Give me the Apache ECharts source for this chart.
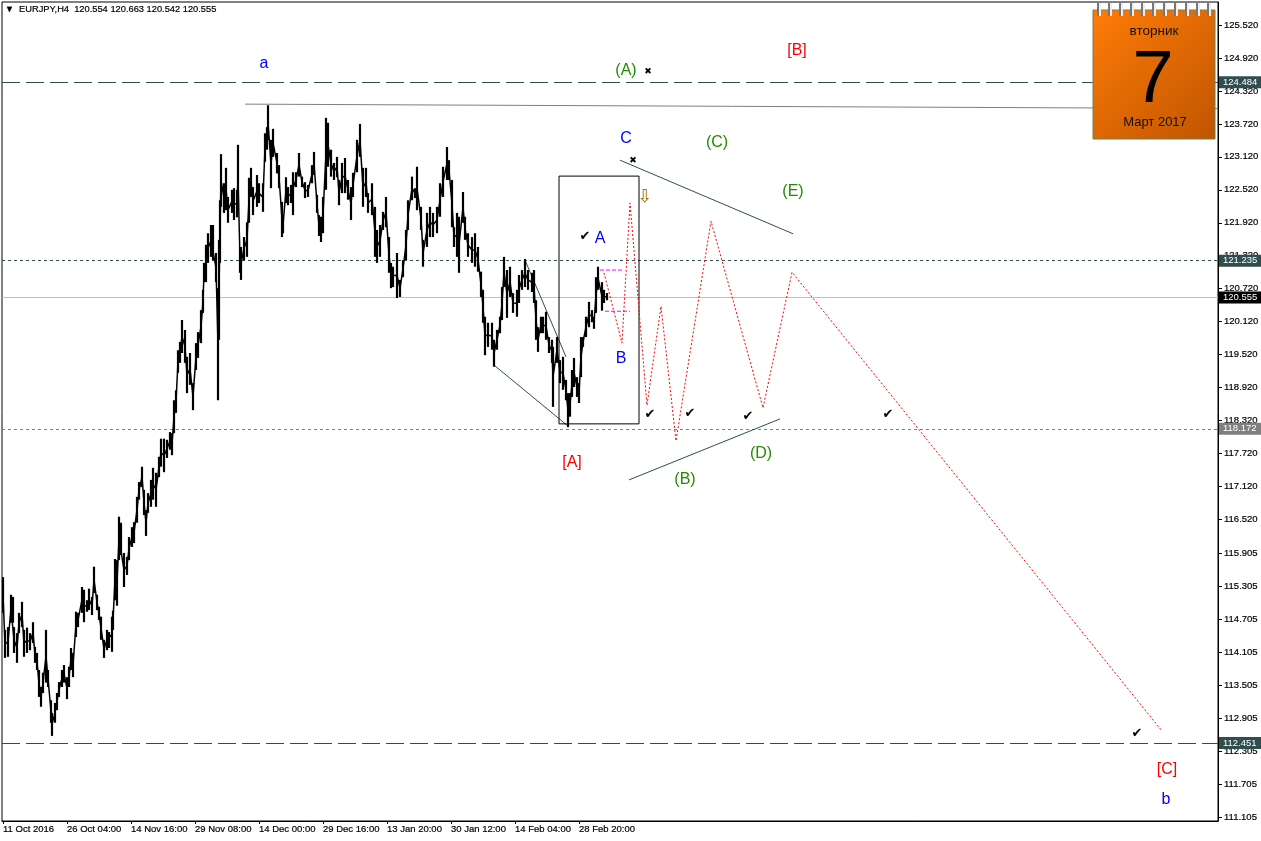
<!DOCTYPE html>
<html><head><meta charset="utf-8"><style>html,body{margin:0;padding:0;background:#fff}#c{width:1261px;height:841px}</style>
<script src="https://cdn.jsdelivr.net/npm/echarts@6/dist/echarts.min.js"></script></head><body><div id="c"></div>
<script>
const barIndex=[3,5,8,11,13,14,17,19,22,24,27,30,33,35,37,39,41,43,46,48,51,52,55,57,59,62,64,67,69,71,73,76,78,82,84,87,89,92,94,97,99,101,104,107,109,112,113,115,117,119,121,124,127,129,132,134,137,139,142,144,146,148,151,153,156,159,161,164,167,170,172,174,176,178,180,182,185,187,190,193,196,198,201,203,204,206,208,211,213,216,218,219,220,221,224,226,228,232,234,237,238,240,241,244,247,249,251,253,257,259,263,265,267,268,271,273,277,279,282,283,286,288,291,293,296,299,302,305,308,312,314,317,319,321,323,326,328,331,334,337,339,342,345,348,351,353,357,360,363,366,368,372,375,377,380,383,386,389,391,393,397,400,403,406,408,412,415,417,421,423,427,430,433,437,440,443,447,449,452,454,457,459,463,465,468,472,475,478,481,483,485,488,492,494,497,500,502,504,507,510,513,517,519,522,525,528,532,534,536,538,541,543,546,549,552,553,557,560,563,566,568,570,572,574,577,579,581,583,586,589,592,594,596,598,602,604,607];
const highs=[115.47,114.51,114.56,115.15,115.11,114.56,114.45,114.82,115.02,114.51,114.55,114.45,114.65,114.20,114.09,113.78,113.47,113.73,114.51,113.78,113.23,113.00,113.18,113.36,113.56,113.78,113.87,113.65,113.84,114.18,114.09,114.84,114.82,115.29,115.24,115.05,115.26,115.11,115.66,115.15,114.93,114.75,114.33,114.51,114.47,114.75,114.86,115.80,115.78,116.57,116.46,115.91,115.84,116.20,116.38,116.47,116.93,117.20,117.48,117.06,116.69,117.00,117.24,117.46,117.37,117.66,117.99,117.99,117.97,118.11,118.09,118.69,118.87,119.60,119.75,120.15,119.97,119.48,119.55,119.00,119.73,119.93,120.33,120.70,121.19,121.52,121.73,121.88,121.88,121.37,120.73,121.61,122.33,123.17,122.64,122.92,122.39,122.52,122.55,122.52,123.34,121.48,121.48,121.66,121.93,122.74,122.92,122.57,122.79,122.64,122.64,123.55,123.66,124.06,123.43,123.63,123.19,122.97,122.30,122.03,122.75,122.57,122.61,122.84,122.84,123.19,122.76,122.66,122.61,122.97,123.21,122.43,122.06,122.03,122.39,123.83,123.74,123.25,123.01,123.12,122.70,123.01,123.10,122.70,122.57,122.83,123.43,123.72,122.92,122.92,122.46,122.64,122.21,121.79,121.88,122.12,122.39,121.66,121.19,121.12,121.37,120.88,121.24,121.79,122.33,122.76,122.55,122.94,122.21,121.61,122.10,122.21,122.10,122.21,122.64,122.94,123.30,123.06,122.70,121.84,122.10,122.03,122.48,122.03,121.73,121.66,121.73,121.48,121.03,120.70,120.21,120.10,120.10,119.79,119.97,120.21,120.75,121.30,121.06,121.12,120.64,120.70,120.97,121.06,121.26,121.06,121.01,121.06,120.51,120.02,120.21,120.21,120.30,119.84,119.79,119.66,119.84,119.42,119.48,119.06,118.82,118.82,119.24,119.46,119.11,119.00,119.84,119.84,120.21,120.48,120.33,120.21,120.93,121.12,120.84,120.70,120.64];
const lows=[114.82,114.00,114.02,114.64,114.64,114.09,113.91,114.45,114.56,114.02,114.09,114.14,114.27,113.91,113.78,113.29,113.11,113.36,113.55,113.47,112.82,112.58,112.82,113.05,113.29,113.47,113.55,113.25,113.47,113.78,113.65,114.38,114.56,114.82,114.65,114.84,114.87,114.78,115.18,114.87,114.69,114.33,114.00,114.14,114.18,114.11,114.51,115.05,114.95,115.78,115.87,115.29,115.51,115.78,116.02,116.09,116.46,116.88,117.11,116.60,116.22,116.64,116.75,116.88,116.75,117.29,117.48,117.38,117.64,117.79,117.69,118.09,118.46,119.19,119.37,119.55,119.37,118.82,118.97,118.51,119.24,119.46,119.73,120.28,120.84,120.84,121.19,121.30,121.24,120.84,118.69,119.79,121.19,122.21,122.10,122.15,121.92,122.10,121.97,122.02,122.15,121.01,120.88,121.24,121.30,121.92,122.39,122.06,122.21,122.28,122.12,123.03,123.25,123.43,122.55,123.12,122.82,122.55,121.66,121.73,122.28,122.24,122.28,122.06,122.57,122.76,122.57,122.37,122.39,122.64,122.79,122.10,121.68,121.57,121.73,122.52,122.94,122.76,122.70,122.75,122.24,122.46,122.46,122.34,121.97,122.39,122.84,123.12,122.21,122.39,122.10,122.06,121.30,121.19,121.30,121.79,121.84,121.01,120.73,120.75,120.55,120.57,120.93,121.24,121.79,122.33,122.37,122.15,121.79,121.12,121.48,121.66,121.66,121.73,122.03,122.39,122.70,122.70,121.84,121.48,121.30,121.01,121.92,121.61,121.30,121.19,121.12,121.03,120.57,120.10,119.51,119.66,119.61,119.30,119.61,119.91,120.15,120.75,120.19,120.57,120.28,120.21,120.46,120.70,120.75,120.70,120.66,120.46,119.79,119.57,119.91,119.91,119.79,119.55,119.37,118.57,119.37,119.00,118.88,118.69,118.20,118.39,118.75,118.93,118.75,118.64,119.11,119.66,119.84,120.02,120.11,119.99,120.28,120.70,120.32,120.46,120.51];

const xTickBars=[3,67,131,195,259,323,387,451,515,579];
const xTickLabels=['11 Oct 2016','26 Oct 04:00','14 Nov 16:00','29 Nov 08:00','14 Dec 00:00','29 Dec 16:00','13 Jan 20:00','30 Jan 12:00','14 Feb 04:00','28 Feb 20:00'];
const yTickPrices=[125.52,124.92,124.32,123.72,123.12,122.52,121.92,121.32,120.72,120.12,119.52,118.92,118.32,117.72,117.12,116.52,115.905,115.305,114.705,114.105,113.505,112.905,112.305,111.705,111.105];

const longDashLevels=[124.484,112.451];
const shortDashDark=121.235, shortDashGrey=118.172, bidLevel=120.555;

const waveBars=[604,622,630,647,661,676,711,763,792,1162];
const wavePrices=[121.01,119.73,122.28,118.60,120.40,117.95,121.95,118.55,121.02,112.67];
const trendLines=[
 {bars:[245,1218],prices:[124.08,124.00],color:'#808080'},
 {bars:[620,793],prices:[123.06,121.72],color:'#2f4f4f'},
 {bars:[629,780],prices:[117.24,118.35],color:'#2f4f4f'},
 {bars:[494,568],prices:[119.33,118.22],color:'#2f4f4f'},
 {bars:[525,566],prices:[121.24,119.48],color:'#2f4f4f'}
];
const boxBars=[559,639], boxPrices=[118.26,122.77];
const magenta=[{bars:[600,622],price:121.06},{bars:[605,630],price:120.31}];

const blueNames=['a','C','A','B','b'];
const blueBars=[264,626,600,621,1166];
const bluePrices=[124.81,123.45,121.63,119.45,111.42];
const redNames=['[B]','[A]','[C]'];
const redBars=[797,572,1167];
const redPrices=[125.06,117.55,111.96];
const greenNames=['(A)','(C)','(E)','(B)','(D)'];
const greenBars=[626,717,793,685,761];
const greenPrices=[124.69,123.38,122.49,117.25,117.72];
const checkBars=[585,650,690,748,888,1137];
const checkPrices=[121.66,118.42,118.44,118.40,118.42,112.63];
const crossBars=[648,633];
const crossPrices=[124.68,123.06];
const arrowBars=[645];
const arrowPrices=[122.39];

const AX='"Liberation Sans",sans-serif';
const chart=echarts.init(document.getElementById('c'),null,{renderer:'canvas',width:1261,height:841});
const textSeries=(bars,prices,names,color,size,font)=>({type:'scatter',z:20,silent:true,symbolSize:1,itemStyle:{color:'rgba(0,0,0,0)',opacity:1},
 data:bars.map((b,i)=>[b,prices[i],names[i]]),
 label:{show:true,position:'inside',opacity:1,formatter:p=>p.data[2],color,fontSize:size,fontFamily:font||'"Liberation Sans",sans-serif'}});
const lineSeries=(data,color,width,type,z)=>({type:'line',z:z||5,silent:true,symbol:'none',animation:false,data,lineStyle:{color,width,type:type||'solid'}});
const hLabel=(v,bg,fg)=>({show:true,position:'end',distance:1,formatter:()=>v.toFixed(3),color:fg,backgroundColor:bg,fontSize:9.5,fontFamily:AX,padding:[1,3,0,4],width:35,align:'left',height:11,lineHeight:11});
const mk=(value,color,type,bg,fg='#fff')=>({yAxis:value,lineStyle:{color,type,width:1},label:hLabel(value,bg,fg)});
const rings=[];
for(let i=0;i<11;i++){const x=1097+i*11;
 rings.push({type:'rect',z:31,shape:{x:x,y:3,width:2,height:13},style:{fill:'#777'}});
 rings.push({type:'rect',z:32,shape:{x:x+2,y:3,width:2,height:13},style:{fill:'#eee'}});}
chart.setOption({
 animation:false,backgroundColor:'#fff',
 title:{text:'{t|▼}  EURJPY,H4  120.554 120.663 120.542 120.555',left:5,top:5,padding:0,
  textStyle:{fontSize:9.3,fontWeight:'normal',color:'#000',fontFamily:AX,textBorderColor:'#000',textBorderWidth:0.2,rich:{t:{fontSize:9,color:'#000'}}}},
 grid:{left:2,right:43,top:2,bottom:20,outerBoundsMode:'none',containLabel:false,show:true,borderColor:'#000',borderWidth:1,backgroundColor:'#fff'},
 xAxis:{type:'value',min:2,max:1218,splitLine:{show:false},axisLine:{show:true,lineStyle:{color:'#000'}},
  axisTick:{show:true,length:3,lineStyle:{color:'#000'},customValues:xTickBars},
  axisLabel:{customValues:xTickBars,formatter:v=>xTickLabels[xTickBars.indexOf(v)]||'',align:'left',margin:3,fontSize:9.5,color:'#000',textBorderColor:'#000',textBorderWidth:0.2,fontFamily:AX,hideOverlap:false,showMinLabel:true,showMaxLabel:true}},
 yAxis:{type:'value',position:'right',min:111.031,max:125.939,splitLine:{show:false},axisLine:{show:true,onZero:false,lineStyle:{color:'#000'}},
  axisTick:{show:true,length:4,lineStyle:{color:'#000'},customValues:yTickPrices},
  axisLabel:{customValues:yTickPrices,formatter:v=>v.toFixed(3),margin:6,fontSize:9.5,color:'#000',textBorderColor:'#000',textBorderWidth:0.2,fontFamily:AX,hideOverlap:false,showMinLabel:true,showMaxLabel:true}},
 graphic:[
  {type:'rect',z:30,shape:{x:1093,y:10,width:122,height:129},style:{stroke:'#6f7f5f',lineWidth:1,fill:new echarts.graphic.LinearGradient(0,0,1,1,[{offset:0,color:'#ff7c08'},{offset:1,color:'#bf5500'}])}},
  ...rings,
  {type:'text',z:33,style:{x:1154,y:31,text:'вторник',align:'center',verticalAlign:'middle',font:'13.5px "Liberation Sans",sans-serif',fill:'#111'}},
  {type:'text',z:33,style:{x:1153,y:82,text:'7',align:'center',verticalAlign:'middle',font:'74px "Liberation Sans",sans-serif',fill:'#000'}},
  {type:'text',z:33,style:{x:1155,y:122,text:'Март 2017',align:'center',verticalAlign:'middle',font:'13px "Liberation Sans",sans-serif',fill:'#111'}}
 ],
 series:[
  {type:'line',z:2,symbol:'none',silent:true,data:[],markLine:{silent:true,symbol:'none',animation:false,data:[
    mk(shortDashDark,'#2f4f4f',[3,3],'#2f4f4f'),
    mk(shortDashGrey,'#808080',[3,3],'#808080'),
    mk(bidLevel,'#c0c0c0','solid','#000'),
    mk(longDashLevels[0],'#2f4f4f',[18,6],'#2f4f4f'),
    mk(longDashLevels[1],'#2f4f4f',[18,6],'#2f4f4f')
  ]}},
  ...trendLines.map(t=>lineSeries(t.bars.map((b,i)=>[b,t.prices[i]]),t.color,1)),
  lineSeries(barIndex.map((b,i)=>[b,(highs[i]+lows[i])/2]),'#000',1.5,'solid',8),
  {type:'custom',z:9,silent:true,animation:false,clip:true,data:barIndex.map((b,i)=>[b,lows[i],highs[i]]),encode:{x:0,y:[1,2]},
   renderItem:(p,api)=>{const a=api.coord([api.value(0),api.value(1)]),c=api.coord([api.value(0),api.value(2)]);
    return {type:'line',shape:{x1:a[0],y1:a[1],x2:c[0],y2:c[1]},style:{stroke:'#000',lineWidth:2.2}};}},
  lineSeries([[boxBars[0],boxPrices[0]],[boxBars[1],boxPrices[0]],[boxBars[1],boxPrices[1]],[boxBars[0],boxPrices[1]],[boxBars[0],boxPrices[0]]],'#000',1,'solid',10),
  ...magenta.map(m=>lineSeries(m.bars.map(b=>[b,m.price]),'#ff00ff',1,[4,2],11)),
  lineSeries(waveBars.map((b,i)=>[b,wavePrices[i]]),'#ff0000',1,[2,2],12),
  textSeries(blueBars,bluePrices,blueNames,'#0000ff',16),
  textSeries(redBars,redPrices,redNames,'#ff0000',16),
  textSeries(greenBars,greenPrices,greenNames,'#238b00',16),
  textSeries(checkBars,checkPrices,checkBars.map(()=>'✔'),'#000',13,'"DejaVu Sans"'),
  textSeries(crossBars,crossPrices,crossBars.map(()=>'✖'),'#000',9,'"DejaVu Sans"'),
  textSeries(arrowBars,arrowPrices,['⇩'],'#b06a00',18,'"DejaVu Sans"')
 ]
});
</script></body></html>
